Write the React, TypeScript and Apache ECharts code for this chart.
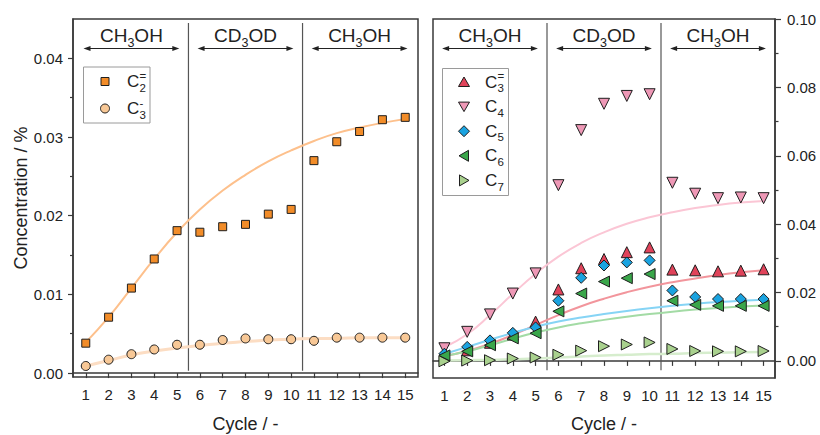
import React, { useEffect, useRef } from "react";
import * as echarts from "echarts";

// ---- data -----------------------------------------------------------------
const cycles = [1, 2, 3, 4, 5, 6, 7, 8, 9, 10, 11, 12, 13, 14, 15];

// left panel: ethylene (C2=) and propane (C3-)
const c2ene = [0.0038, 0.0071, 0.0108, 0.0145, 0.0181, 0.0179, 0.0186, 0.0189, 0.0202, 0.0208, 0.027, 0.0294, 0.0307, 0.0322, 0.0325];
const c3ane = [0.0009, 0.0017, 0.0024, 0.003, 0.0036, 0.0036, 0.0042, 0.0044, 0.0043, 0.0043, 0.0041, 0.0045, 0.0045, 0.0045, 0.0045];
const c2eneFit = [0.0039, 0.0071, 0.0108, 0.0145, 0.0179, 0.0208, 0.0232, 0.0252, 0.0269, 0.0283, 0.0295, 0.0305, 0.0312, 0.0318, 0.0323];
const c3aneFit = [0.0009, 0.0016, 0.0023, 0.0028, 0.0032, 0.0035, 0.0038, 0.004, 0.0042, 0.0043, 0.0044, 0.0044, 0.0045, 0.0045, 0.0045];

// right panel: propylene and C4-C7 hydrocarbons
const c3ene = [0.0016, 0.0031, 0.0053, 0.0077, 0.0115, 0.0209, 0.0271, 0.0298, 0.0318, 0.0332, 0.0267, 0.0265, 0.0262, 0.0264, 0.0268];
const c4 = [0.0037, 0.0085, 0.0136, 0.0197, 0.0256, 0.0514, 0.0675, 0.0752, 0.0775, 0.078, 0.0521, 0.0489, 0.0476, 0.0478, 0.0476];
const c5 = [0.0021, 0.0041, 0.006, 0.0082, 0.0098, 0.0176, 0.0243, 0.0279, 0.0288, 0.0294, 0.0206, 0.0187, 0.0181, 0.0181, 0.0181];
const c6 = [0.0016, 0.0028, 0.0046, 0.0066, 0.0081, 0.0145, 0.0197, 0.0232, 0.0242, 0.0254, 0.0176, 0.0164, 0.0161, 0.0161, 0.0161];
const c7 = [-0.0001, 0.0001, 0.0002, 0.0007, 0.001, 0.0018, 0.003, 0.0043, 0.0048, 0.0054, 0.0035, 0.0029, 0.0028, 0.0028, 0.0029];
const c3eneFit = [0.0014, 0.0029, 0.005, 0.0076, 0.0105, 0.0134, 0.016, 0.0182, 0.0201, 0.0217, 0.023, 0.0241, 0.0251, 0.0259, 0.0265];
const c4Fit = [0.004, 0.0078, 0.0134, 0.0196, 0.0255, 0.0305, 0.0345, 0.0376, 0.0401, 0.042, 0.0435, 0.0447, 0.0456, 0.0463, 0.0468];
const c5Fit = [0.002, 0.0041, 0.0062, 0.0082, 0.01, 0.0115, 0.0127, 0.0137, 0.0146, 0.0154, 0.0161, 0.0167, 0.0172, 0.0176, 0.0179];
const c6Fit = [0.0014, 0.0028, 0.0046, 0.0065, 0.0083, 0.0098, 0.011, 0.012, 0.0129, 0.0137, 0.0144, 0.015, 0.0155, 0.0159, 0.0162];
const c7Fit = [0.0001, 0.0002, 0.0003, 0.0005, 0.0007, 0.001, 0.0013, 0.0016, 0.0018, 0.002, 0.0021, 0.0023, 0.0024, 0.0025, 0.0026];

// axis ticks
const leftTicks = [0, 0.01, 0.02, 0.03, 0.04];
const leftMinorTicks = [0.005, 0.015, 0.025, 0.035];
const rightTicks = [0, 0.02, 0.04, 0.06, 0.08, 0.1];
const rightMinorTicks = [0.01, 0.03, 0.05, 0.07, 0.09];

// feed switching periods
const dividers = [5.5, 10.5];
const leftDividerSpan = [0.0445, 0.0003];
const rightDividerSpan = [0.0988, -0.0027];
const periodCenters = [3, 8, 13];
const periodHead = ["CH", "CD", "CH"];
const periodTail = ["OH", "OD", "OH"];

// ---- styling ----------------------------------------------------------------
const FONT = '"Liberation Sans", Arial, Helvetica, sans-serif';
const INK = "#222";
const FRAME = "#3a3a3a";
const EDGE = "#1e1e1e";

const pairs = (ys: number[]) => cycles.map((c, i) => [c, ys[i]]);

const scatter = (name: string, ys: number[], xi: number, yi: number, symbol: string, color: string, size: number, rotate = 0) => ({
  type: "scatter",
  name,
  xAxisIndex: xi,
  yAxisIndex: yi,
  data: pairs(ys),
  symbol,
  symbolSize: size,
  symbolRotate: rotate,
  itemStyle: { color, borderColor: EDGE, borderWidth: 1, opacity: 1 },
  z: 4,
  silent: true,
});

const fit = (ys: number[], xi: number, yi: number, color: string, width: number) => ({
  type: "line",
  xAxisIndex: xi,
  yAxisIndex: yi,
  data: pairs(ys),
  smooth: 0.5,
  showSymbol: false,
  symbol: "none",
  lineStyle: { color, width },
  z: 2,
  silent: true,
});

const divider = (x: number, span: number[], xi: number, yi: number) => ({
  type: "line",
  xAxisIndex: xi,
  yAxisIndex: yi,
  data: [
    [x, span[0]],
    [x, span[1]],
  ],
  symbol: "none",
  lineStyle: { color: "#555", width: 1.2 },
  z: 1,
  silent: true,
});

const xAxis = (gridIndex: number, min: number, max: number, nameGap: number) => ({
  type: "value",
  gridIndex,
  min,
  max,
  name: "Cycle / -",
  nameLocation: "middle",
  nameGap,
  nameTextStyle: { fontFamily: FONT, fontSize: 18, color: INK },
  axisLine: { show: true, lineStyle: { color: FRAME, width: 1.5 } },
  axisTick: { show: true, customValues: cycles, length: 5, lineStyle: { color: FRAME, width: 1.2 } },
  axisLabel: { customValues: cycles, margin: 10, fontFamily: FONT, fontSize: 15, color: INK },
  splitLine: { show: false },
});

const yAxisMain = (gridIndex: number, min: number, max: number, ticks: number[], position: string, len: number, margin: number, extra: any = {}) => ({
  type: "value",
  gridIndex,
  min,
  max,
  position,
  axisLine: { show: true, lineStyle: { color: FRAME, width: 1.5 } },
  axisTick: { show: true, customValues: ticks, length: len, lineStyle: { color: FRAME, width: 1.2 } },
  axisLabel: {
    customValues: ticks,
    margin,
    fontFamily: FONT,
    fontSize: 15,
    color: INK,
    formatter: (v: number) => v.toFixed(2),
  },
  splitLine: { show: false },
  ...extra,
});

const yAxisMinor = (gridIndex: number, min: number, max: number, ticks: number[], position: string, len: number) => ({
  type: "value",
  gridIndex,
  min,
  max,
  position,
  axisLine: { show: false },
  axisTick: { show: true, customValues: ticks, length: len, lineStyle: { color: FRAME, width: 1.2 } },
  axisLabel: { show: false },
  splitLine: { show: false },
});

// legend marker shapes
const markerShape = (kind: string, x: number, y: number, fill: string): any => {
  const style = { fill, stroke: EDGE, lineWidth: 1 };
  switch (kind) {
    case "square":
      return { type: "rect", shape: { x: x - 4, y: y - 4, width: 8, height: 8 }, style };
    case "circle":
      return { type: "circle", shape: { cx: x, cy: y, r: 4.5 }, style };
    case "up":
      return { type: "polygon", shape: { points: [[x, y - 5], [x + 5.5, y + 4.5], [x - 5.5, y + 4.5]] }, style };
    case "down":
      return { type: "polygon", shape: { points: [[x, y + 5], [x + 5.5, y - 4.5], [x - 5.5, y - 4.5]] }, style };
    case "diamond":
      return { type: "polygon", shape: { points: [[x, y - 5.5], [x + 5.5, y], [x, y + 5.5], [x - 5.5, y]] }, style };
    case "left":
      return { type: "polygon", shape: { points: [[x - 5, y], [x + 4.5, y - 5.5], [x + 4.5, y + 5.5]] }, style };
    default:
      return { type: "polygon", shape: { points: [[x + 5, y], [x - 4.5, y - 5.5], [x - 4.5, y + 5.5]] }, style };
  }
};

const txt = (text: string, x: number, y: number, size: number, align = "left"): any => ({
  type: "text",
  x,
  y,
  style: { text, fontFamily: FONT, fontSize: size, fill: INK, align, verticalAlign: "middle" },
});

// "C" with stacked subscript / superscript
const chemLabel = (x: number, y: number, sub: string, sup: string): any[] => {
  const out: any[] = [txt("C", x, y, 17), txt(sub, x + 12.6, y + 6.2, 11.5)];
  if (sup) out.push(txt(sup, x + 12.6, y - 6, 11.5));
  return out;
};

const leftLegend = [
  { kind: "square", color: "#F28C28", sub: "2", sup: "=" },
  { kind: "circle", color: "#F8C896", sub: "3", sup: "-" },
];
const rightLegend = [
  { kind: "up", color: "#E0435A", sub: "3", sup: "=" },
  { kind: "down", color: "#EE98B6", sub: "4", sup: "" },
  { kind: "diamond", color: "#1AA3E0", sub: "5", sup: "" },
  { kind: "left", color: "#3AA64A", sub: "6", sup: "" },
  { kind: "right", color: "#A9D18E", sub: "7", sup: "" },
];

// text width in px for the given size
const measure = (() => {
  const ctx = document.createElement("canvas").getContext("2d");
  return (s: string, size: number) => {
    if (!ctx) return s.length * size * 0.7;
    ctx.font = `${size}px ${FONT}`;
    return ctx.measureText(s).width;
  };
})();

export default function App() {
  const ref = useRef<HTMLDivElement>(null);

  useEffect(() => {
    if (!ref.current) return;
    const chart = echarts.init(ref.current, null, { renderer: "svg" });

    const gridBase = { show: true, borderColor: FRAME, borderWidth: 1.5, backgroundColor: "transparent", containLabel: false, outerBoundsMode: "none" };
    const option: any = {
      animation: false,
      backgroundColor: "#fff",
      textStyle: { fontFamily: FONT },
      grid: [
        { left: 73, top: 19, width: 345, height: 358, ...gridBase },
        { left: 433, top: 19, width: 342, height: 359, ...gridBase },
      ],
      xAxis: [xAxis(0, 0.44, 15.56, 38), xAxis(1, 0.5, 15.5, 37)],
      yAxis: [
        yAxisMain(0, -0.0005, 0.045, leftTicks, "left", 5, 10, {
          name: "Concentration / %",
          nameLocation: "middle",
          nameGap: 43,
          nameTextStyle: { fontFamily: FONT, fontSize: 18, color: INK },
        }),
        yAxisMinor(0, -0.0005, 0.045, leftMinorTicks, "left", 3),
        yAxisMain(1, -0.005, 0.1, rightTicks, "right", 6, 12),
        yAxisMinor(1, -0.005, 0.1, rightMinorTicks, "right", 3.5),
      ],
      series: [
        ...dividers.map((d) => divider(d, leftDividerSpan, 0, 0)),
        ...dividers.map((d) => divider(d, rightDividerSpan, 1, 2)),
        fit(c2eneFit, 0, 0, "#FDC08C", 2),
        fit(c3aneFit, 0, 0, "#FCDDC3", 3),
        scatter("C2=", c2ene, 0, 0, "rect", "#F28C28", 8),
        scatter("C3-", c3ane, 0, 0, "circle", "#F8C896", 9),
        fit(c4Fit, 1, 2, "#FBC6D5", 2),
        fit(c3eneFit, 1, 2, "#F2959C", 2),
        fit(c5Fit, 1, 2, "#86D4F5", 2),
        fit(c6Fit, 1, 2, "#A3DBA5", 2),
        fit(c7Fit, 1, 2, "#D6EDCD", 2.5),
        scatter("C3=", c3ene, 1, 2, "triangle", "#E0435A", 11),
        scatter("C4", c4, 1, 2, "triangle", "#EE98B6", 11, 180),
        scatter("C5", c5, 1, 2, "diamond", "#1AA3E0", 11),
        scatter("C6", c6, 1, 2, "triangle", "#3AA64A", 11, 90),
        scatter("C7", c7, 1, 2, "triangle", "#A9D18E", 11, -90),
      ],
    };
    chart.setOption(option);

    // period headers with double-headed arrows, positioned by the x scales
    const graphics: any[] = [];
    const arrowY = 48.5;
    const half = 2.1;
    const big = 19;
    const small = 12.5;
    [0, 1].forEach((gi) => {
      periodCenters.forEach((c, k) => {
        const cx = chart.convertToPixel({ xAxisIndex: gi }, c) as number;
        const x1 = chart.convertToPixel({ xAxisIndex: gi }, c - half) as number;
        const x2 = chart.convertToPixel({ xAxisIndex: gi }, c + half) as number;
        const wHead = measure(periodHead[k], big);
        const wSub = measure("3", small);
        const wTail = measure(periodTail[k], big);
        const start = cx - (wHead + wSub + wTail) / 2;
        graphics.push(txt(periodHead[k], start, 35.5, big));
        graphics.push(txt("3", start + wHead, 42.5, small));
        graphics.push(txt(periodTail[k], start + wHead + wSub, 35.5, big));
        graphics.push({ type: "line", shape: { x1: x1 + 4, y1: arrowY, x2: x2 - 4, y2: arrowY }, style: { stroke: INK, lineWidth: 1 } });
        graphics.push({ type: "polygon", shape: { points: [[x1, arrowY], [x1 + 7, arrowY - 2.6], [x1 + 7, arrowY + 2.6]] }, style: { fill: INK } });
        graphics.push({ type: "polygon", shape: { points: [[x2, arrowY], [x2 - 7, arrowY - 2.6], [x2 - 7, arrowY + 2.6]] }, style: { fill: INK } });
      });
    });

    // legends
    graphics.push({ type: "rect", shape: { x: 83.5, y: 67, width: 66.5, height: 56 }, style: { fill: "#fff", stroke: "#9a9a9a", lineWidth: 1 } });
    leftLegend.forEach((e, i) => {
      const y = 81.5 + i * 27;
      graphics.push(markerShape(e.kind, 105, y, e.color));
      graphics.push(...chemLabel(127, y, e.sub, e.sup));
    });
    graphics.push({ type: "rect", shape: { x: 442.5, y: 68.5, width: 66, height: 127 }, style: { fill: "#fff", stroke: "#9a9a9a", lineWidth: 1 } });
    rightLegend.forEach((e, i) => {
      const y = 82 + i * 24.6;
      graphics.push(markerShape(e.kind, 464, y, e.color));
      graphics.push(...chemLabel(485, y, e.sub, e.sup));
    });

    chart.setOption({ graphic: graphics.map((g) => ({ ...g, z: 100 })) });

    return () => chart.dispose();
  }, []);

  return <div ref={ref} style={{ position: "fixed", left: 0, top: 0, width: 820, height: 435 }} />;
}
